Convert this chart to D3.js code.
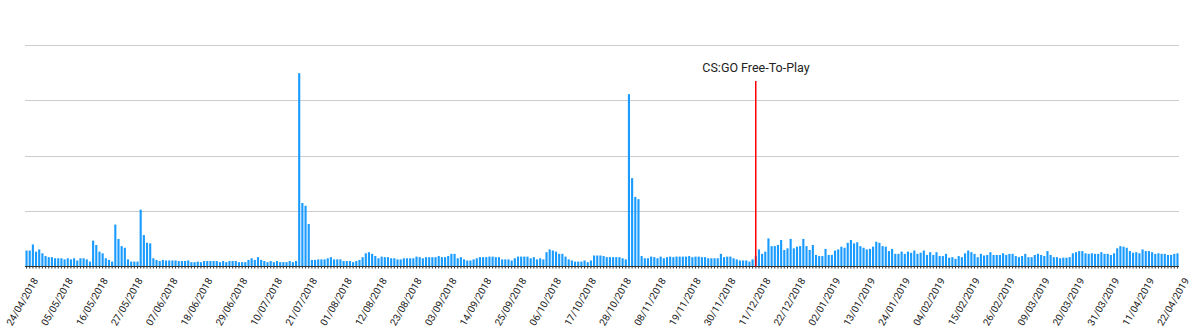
<!DOCTYPE html>
<html>
<head>
<meta charset="utf-8">
<script src="https://d3js.org/d3.v7.min.js"></script>
<style>
  body { margin: 0; background: #fff; }
  text { font-family: Roboto, Arial, sans-serif; }
</style>
</head>
<body>
<div class="chart"></div>
<script>
//Config
var width = 1199,
    height = 334,
    margin = {
      top : 45,
      bottom : 68,
      right : 20,
      left : 25
    };

//Data
var startDay = new Date(2018, 3, 24),
    endDay = new Date(2019, 3, 23);

var dayFormat = d3.timeFormat("%d/%m/%Y");
var days = d3.timeDay.range(startDay, endDay).map(dayFormat);

var tickLabels = [
  "24/04/2018", "05/05/2018", "16/05/2018", "27/05/2018", "07/06/2018", "18/06/2018",
  "29/06/2018", "10/07/2018", "21/07/2018", "01/08/2018", "12/08/2018", "23/08/2018",
  "03/09/2018", "14/09/2018", "25/09/2018", "06/10/2018", "17/10/2018", "28/10/2018",
  "08/11/2018", "19/11/2018", "30/11/2018", "11/12/2018", "22/12/2018", "02/01/2019",
  "13/01/2019", "24/01/2019", "04/02/2019", "15/02/2019", "26/02/2019", "09/03/2019",
  "20/03/2019", "31/03/2019", "11/04/2019", "22/04/2019"
];

var yTicks = [0, 100, 200, 300, 400];

var values = [
  28,28,39,26,30,23,18,16,16,14, 14,14,12,14,12,14,10,14,14,12,
  8,46,38,26,23,14,11,8,75,49, 36,33,12,8,8,8,102,56,42,41,
  14,11,9,11,10,10,10,10,9,9, 9,10,7,7,8,7,9,9,9,9,
  9,7,9,7,9,9,9,7,7,7, 11,14,11,16,11,9,7,9,7,9,
  7,7,7,9,7,9,
  349,114,109,76,11,11,12,12,12,14, 16,12,12,12,9,9,9,7,9,11,
  16,23,25,22,18,14,17,16,16,14, 14,12,12,14,14,14,
  14,17,16,14,16,16,16,16,18,16, 16,18,22,22,14,16,12,10,10,12,
  14,16,16,16,17,17,16,16,12,12, 12,10,14,17,17,17,17,14,16,12,
  14,12,25,30,28,26,22,22,17,12, 10,8,8,8,10,7,10,19,19,19,
  18,16,16,16,16,16,14,12,311,159, 125,121,
  18,14,14,17,16,14,17,14,16,17, 16,17,17,17,17,18,16,17,17,16,
  16,14,14,14,14,22,16,17,17,14, 12,10,10,10,8,12,18,30,22,26,
  50,36,36,38,47,29,32,
  49,32,35,36,49,36,29,38,20,18, 18,31,20,20,28,30,35,33,42,47,
  41,43,36,33,30,31,35,44,42,36, 35,27,31,22,22,26,22,26,24,28,
  22,24,28,20,25,20,25,18,18,22, 15,16,13,18,16,23,28,25,22,16,
  22,19,20,25,20,20,20,23,20,22, 22,18,16,18,22,16,16,20,22,20,
  18,27,20,16,16,14,15,15,16,23, 25,27,27,23,22,23,22,22,25,22,
  22,20,23,32,36,35,33,27,24,25, 23,30,27,27,25,22,23,22,22,20,
  20,22,23
];

var annotation = { day : "10/12/2018", label : "CS:GO Free-To-Play" };

//Instance element
var svg = d3.select(".chart")
    .append("svg")
    .attr("width", width)
    .attr("height", height)
    .style("display", "block");

svg.append("rect")
    .attr("width", width)
    .attr("height", height)
    .attr("fill", "#fff");

//Scales
var x = d3.scaleBand()
    .domain(days)
    .range([margin.left, width - margin.right])
    .paddingInner(0.33)
    .paddingOuter(0.15);

var y = d3.scaleLinear()
    .domain([0, 400])
    .range([height - margin.bottom, margin.top]);

//Grid
svg.append("g")
  .selectAll("line")
  .data(yTicks.slice(1))
  .enter()
  .append("line")
  .attr("x1", margin.left)
  .attr("x2", width - margin.right)
  .attr("y1", function (d) { return Math.round(y(d)) + 0.5; })
  .attr("y2", function (d) { return Math.round(y(d)) + 0.5; })
  .style("stroke", "#cccccc")
  .style("stroke-width", "1px");

//Bars
svg.append("g")
  .selectAll("rect")
  .data(values)
  .enter()
  .append("rect")
  .attr("x", function (d, i) { return x(days[i]); })
  .attr("width", x.bandwidth())
  .attr("y", function (d) { return y(d); })
  .attr("height", function (d) { return y(0) - y(d); })
  .style("fill", "#1a9bff");

//Baseline and day ticks
var base = Math.round(y(0)) + 0.5;
svg.append("line")
  .attr("x1", margin.left)
  .attr("x2", width - margin.right)
  .attr("y1", base)
  .attr("y2", base)
  .style("stroke", "#333")
  .style("stroke-width", "1px");

svg.append("g")
  .selectAll("line")
  .data(days)
  .enter()
  .append("line")
  .attr("x1", function (d) { return x(d) + x.bandwidth() / 2; })
  .attr("x2", function (d) { return x(d) + x.bandwidth() / 2; })
  .attr("y1", base)
  .attr("y2", base + 2)
  .style("stroke", "#333")
  .style("stroke-width", "1px");

//Tick labels
svg.append("g")
  .selectAll("text")
  .data(tickLabels)
  .enter()
  .append("text")
  .attr("transform", function (d) {
    var cx = x(d) + x.bandwidth() / 2;
    return "translate(" + (cx + 12) + "," + (base + 14) + ") rotate(-60)";
  })
  .style("text-anchor", "end")
  .style("font-size", "10px")
  .style("fill", "#222")
  .text(function (d) { return d; });

//Annotation
var ax = Math.round(x(annotation.day));
svg.append("rect")
  .attr("x", ax)
  .attr("y", 81)
  .attr("width", 1.5)
  .attr("height", base - 81)
  .style("fill", "red");

svg.append("text")
  .attr("x", ax + 1)
  .attr("y", 72)
  .style("text-anchor", "middle")
  .style("font-size", "12.5px")
  .style("fill", "#222")
  .text(annotation.label);
</script>
</body>
</html>
